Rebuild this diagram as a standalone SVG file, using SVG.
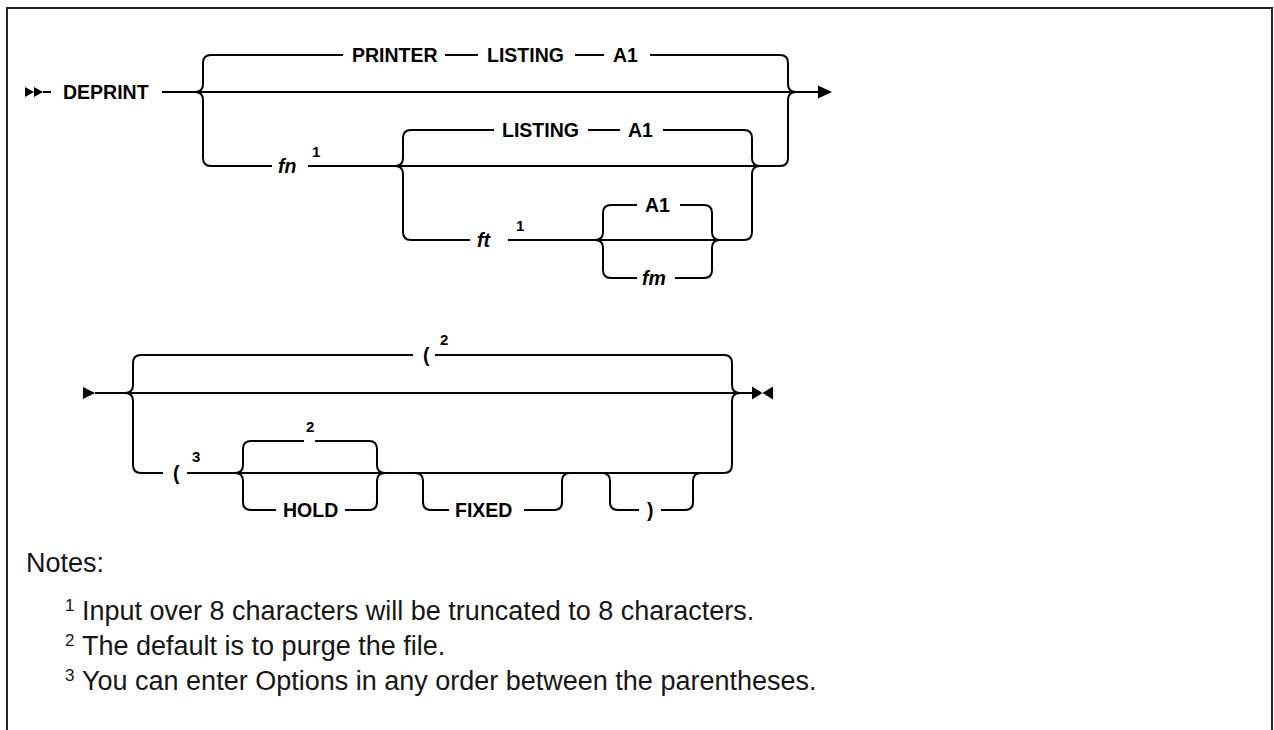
<svg xmlns="http://www.w3.org/2000/svg" width="1274" height="730" viewBox="0 0 1274 730">
<style>
.ln{fill:none;stroke:#000;stroke-width:2}
.ah{fill:#000;stroke:none}
.kw{font-family:"Liberation Sans",Arial,sans-serif;font-size:19.5px;font-weight:bold;fill:#000}
.var{font-family:"Liberation Sans",Arial,sans-serif;font-size:19.5px;font-weight:bold;font-style:italic;fill:#000}
.sup{font-family:"Liberation Sans",Arial,sans-serif;font-size:15px;font-weight:bold;fill:#000}
.note{font-family:"Liberation Sans",Arial,sans-serif;font-size:27px;fill:#161616}
.nsup{font-family:"Liberation Sans",Arial,sans-serif;font-size:17px;fill:#161616}
</style>
<rect width="1274" height="730" fill="#fff"/>
<path d="M7,731 V8 H1272 V731" fill="none" stroke="#222" stroke-width="2"/>
<g id="connectors">
  <path class="ah" d="M25,87 L34,92 L25,97 Z M34,87 L43,92 L34,97 Z"/>
  <path class="ln" d="M43,92 H51"/>
  <path class="ln" d="M162,92 H818"/>
  <path class="ah" d="M818,85.5 L832,92 L818,98.5 Z"/>
  <path class="ln" d="M195,92 Q203,92 203,84 V63 Q203,55 211,55 H343"/>
  <path class="ln" d="M195,92 Q203,92 203,100 V158 Q203,166 211,166 H272"/>
  <path class="ln" d="M445,55 H478 M575,55 H604"/>
  <path class="ln" d="M650,55 H780 Q788,55 788,63 V84 Q788,92 796,92"/>
  <path class="ln" d="M308,166 H780 Q788,166 788,158 V100 Q788,92 796,92"/>
  <path class="ln" d="M395,166 Q403,166 403,158 V138 Q403,130 411,130 H494"/>
  <path class="ln" d="M395,166 Q403,166 403,174 V232 Q403,240 411,240 H470"/>
  <path class="ln" d="M588,130 H620"/>
  <path class="ln" d="M663,130 H744 Q752,130 752,138 V158 Q752,166 760,166"/>
  <path class="ln" d="M508,240 H744 Q752,240 752,232 V174 Q752,166 760,166"/>
  <path class="ln" d="M595,240 Q603,240 603,232 V213 Q603,205 611,205 H637"/>
  <path class="ln" d="M680,205 H704 Q712,205 712,213 V232 Q712,240 720,240"/>
  <path class="ln" d="M595,240 Q603,240 603,248 V270 Q603,278 611,278 H637"/>
  <path class="ln" d="M675,278 H704 Q712,278 712,270 V248 Q712,240 720,240"/>
  <path class="ah" d="M83,387 L95,393 L83,399 Z"/>
  <path class="ln" d="M95,393 H752"/>
  <path class="ah" d="M752,386.5 L762.5,393 L752,399.5 Z M773,386.5 L762.5,393 L773,399.5 Z"/>
  <path class="ln" d="M125,393 Q133,393 133,385 V363 Q133,355 141,355 H413"/>
  <path class="ln" d="M435,355 H724 Q732,355 732,363 V385 Q732,393 740,393"/>
  <path class="ln" d="M125,393 Q133,393 133,401 V465 Q133,473 141,473 H163"/>
  <path class="ln" d="M187,473 H724 Q732,473 732,465 V401 Q732,393 740,393"/>
  <path class="ln" d="M235,473 Q243,473 243,465 V449 Q243,441 251,441 H304"/>
  <path class="ln" d="M315,441 H369 Q377,441 377,449 V465 Q377,473 385,473"/>
  <path class="ln" d="M235,473 Q243,473 243,481 V502 Q243,510 251,510 H276"/>
  <path class="ln" d="M345,510 H369 Q377,510 377,502 V481 Q377,473 385,473"/>
  <path class="ln" d="M415,473 Q423,473 423,481 V502 Q423,510 431,510 H449"/>
  <path class="ln" d="M524,510 H554 Q562,510 562,502 V481 Q562,473 570,473"/>
  <path class="ln" d="M602,473 Q610,473 610,481 V502 Q610,510 618,510 H639"/>
  <path class="ln" d="M661,510 H685 Q693,510 693,502 V481 Q693,473 701,473"/>
</g>
<g id="n-deprint"><text class="kw" x="63" y="99">DEPRINT</text></g>
<g id="n-printer"><text class="kw" x="352" y="62">PRINTER</text></g>
<g id="n-listing1"><text class="kw" x="487" y="62">LISTING</text></g>
<g id="n-a1-1"><text class="kw" x="613" y="62">A1</text></g>
<g id="n-fn"><text class="var" x="278" y="173">fn</text><text class="sup" x="312" y="157">1</text></g>
<g id="n-listing2"><text class="kw" x="502" y="137">LISTING</text></g>
<g id="n-a1-2"><text class="kw" x="628" y="137">A1</text></g>
<g id="n-ft"><text class="var" x="477" y="247">ft</text><text class="sup" x="516" y="231">1</text></g>
<g id="n-a1-3"><text class="kw" x="645" y="212">A1</text></g>
<g id="n-fm"><text class="var" x="642" y="285">fm</text></g>
<g id="n-paren-top"><text class="kw" x="423" y="362">(</text><text class="sup" x="440" y="345">2</text></g>
<g id="n-paren-open"><text class="kw" x="173" y="480">(</text><text class="sup" x="192" y="462">3</text></g>
<g id="n-default"><text class="sup" x="306" y="432">2</text></g>
<g id="n-hold"><text class="kw" x="283" y="517">HOLD</text></g>
<g id="n-fixed"><text class="kw" x="455" y="517">FIXED</text></g>
<g id="n-paren-close"><text class="kw" x="647" y="517">)</text></g>
<g id="notes">
  <text class="note" x="26" y="572">Notes:</text>
  <text class="nsup" x="65" y="611">1</text><text class="note" x="82" y="620">Input over 8 characters will be truncated to 8 characters.</text>
  <text class="nsup" x="65" y="646">2</text><text class="note" x="82" y="655">The default is to purge the file.</text>
  <text class="nsup" x="65" y="681">3</text><text class="note" x="82" y="690">You can enter Options in any order between the parentheses.</text>
</g>
</svg>
